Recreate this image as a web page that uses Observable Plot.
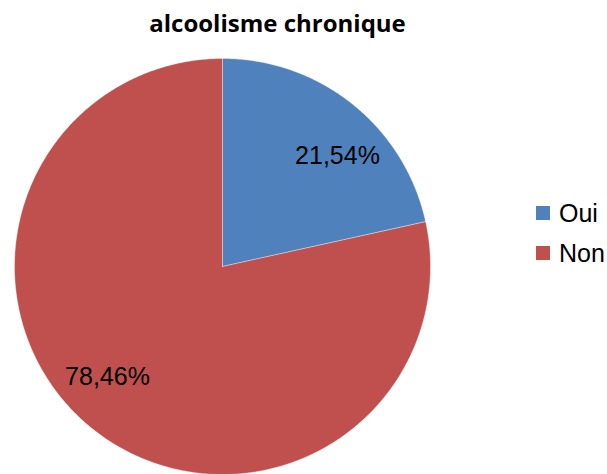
<!DOCTYPE html>
<html>
<head>
<meta charset="utf-8">
<script src="https://cdn.jsdelivr.net/npm/d3@7"></script>
<script src="https://cdn.jsdelivr.net/npm/@observablehq/plot@0.6"></script>
<style>
  html, body { margin: 0; padding: 0; background: #fff; }
  #wrap { position: relative; width: 607px; height: 474px; overflow: hidden; }
  #legend { position: absolute; left: 536px; top: 193px; font-family: "Liberation Sans", Arial, sans-serif; font-size: 25px; color: #000; }
  .item { display: flex; align-items: center; height: 40px; }
  .sw { width: 14px; height: 14px; margin-right: 9px; }
</style>
</head>
<body>
<div id="wrap"></div>
<script>
const categories = ["Oui", "Non"];
const values = [21.54, 78.46];
const labels = ["21,54%", "78,46%"];
const colors = ["#4F81BD", "#C0504D"];
const title = "alcoolisme chronique";

const data = categories.map((c, i) => ({category: c, value: values[i], label: labels[i]}));
const arcs = d3.pie().sort(null).value(d => d.value).startAngle(0).endAngle(2 * Math.PI)(data);

// wedge outlines in unit coordinates (angle clockwise from 12 o'clock)
const wedgePts = [];
for (const a of arcs) {
  const n = Math.max(2, Math.ceil((a.endAngle - a.startAngle) / 0.01));
  wedgePts.push({category: a.data.category, x: 0, y: 0});
  for (let k = 0; k <= n; k++) {
    const t = a.startAngle + (a.endAngle - a.startAngle) * k / n;
    wedgePts.push({category: a.data.category, x: Math.sin(t), y: Math.cos(t)});
  }
  wedgePts.push({category: a.data.category, x: 0, y: 0});
}
const labelShift = 0.127, labelR = 0.768;
const labelPts = arcs.map(a => {
  const m = (a.startAngle + a.endAngle) / 2 + labelShift;
  return {label: a.data.label, x: labelR * Math.sin(m), y: labelR * Math.cos(m)};
});

const cx = 222, cy = 266, R = 208;
const chart = Plot.plot({
  width: 607,
  height: 474,
  margin: 0,
  x: {domain: [-1, 1], range: [cx - R, cx + R], axis: null},
  y: {domain: [-1, 1], range: [cy + R, cy - R], axis: null},
  color: {domain: categories, range: colors},
  style: {background: "#fff"},
  marks: [
    Plot.line(wedgePts, {x: "x", y: "y", z: "category", fill: "category", stroke: "#ffffff", strokeOpacity: 0.45, strokeWidth: 0.8, curve: "linear"}),
    Plot.text(labelPts, {x: "x", y: "y", text: "label", fontSize: 25, fontFamily: "Liberation Sans, Arial, sans-serif", fill: "#000", lineAnchor: "middle"}),
    Plot.text([title], {frameAnchor: "top", dx: -26.5, dy: 31, lineAnchor: "bottom", fontSize: 24, fontWeight: "bold", fontFamily: "Open Sans, sans-serif", fill: "#000"})
  ]
});
const wrap = document.getElementById("wrap");
wrap.appendChild(chart);

const legend = document.createElement("div");
legend.id = "legend";
categories.forEach((c, i) => {
  const it = document.createElement("div");
  it.className = "item";
  const sw = document.createElement("span");
  sw.className = "sw";
  sw.style.background = colors[i];
  const tx = document.createElement("span");
  tx.textContent = c;
  it.appendChild(sw); it.appendChild(tx);
  legend.appendChild(it);
});
wrap.appendChild(legend);
</script>
</body>
</html>
